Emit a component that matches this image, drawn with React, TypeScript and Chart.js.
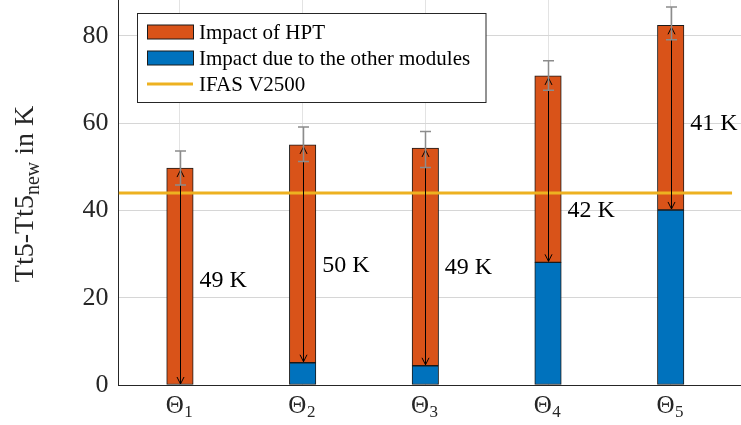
import React, { useEffect, useRef } from "react";
import { Chart, registerables } from "chart.js";

Chart.register(...registerables);

// ---- data ----
const categories = ["Θ_1", "Θ_2", "Θ_3", "Θ_4", "Θ_5"];
const categoryPositions = [1, 2, 3, 4, 5];
const otherModules = [0, 5.1, 4.4, 28.1, 40.1];
const hptImpact = [49.7, 49.9, 49.9, 42.7, 42.3];
const errUpper = [53.6, 59.1, 58.1, 74.3, 86.6];
const errLower = [45.8, 51.2, 49.8, 67.5, 79.1];
const referenceLevel = 44;
const referenceRange = [0.5, 5.5];
const deltaLabels = ["49 K", "50 K", "49 K", "42 K", "41 K"];
const deltaLabelY = [24, 27.3, 26.8, 40, 59.8];
const yTicks = [0, 20, 40, 60, 80];
const yLabelMain = "Tt5-Tt5";
const yLabelSub = "new";
const yLabelTail = " in K";

const HPT_COLOR = "#D95319";
const OTHER_COLOR = "#0072BD";
const REF_COLOR = "#EDB120";
const FONT = "'Liberation Serif', 'Times New Roman', serif";

const overlayPlugin = {
  id: "overlay",
  afterDatasetsDraw(chart: any) {
    const ctx = chart.ctx as CanvasRenderingContext2D;
    const xs = chart.scales.x;
    const ys = chart.scales.y;
    ctx.save();
    // double arrows over HPT segment
    ctx.strokeStyle = "#000";
    ctx.lineWidth = 1;
    categoryPositions.forEach((c, i) => {
      const px = Math.round(xs.getPixelForValue(c)) + 0.5;
      const top = ys.getPixelForValue(otherModules[i] + hptImpact[i]) + 2;
      const bot = ys.getPixelForValue(otherModules[i]) - 1;
      ctx.beginPath();
      ctx.moveTo(px, top);
      ctx.lineTo(px, bot);
      ctx.stroke();
      ctx.beginPath();
      ctx.moveTo(px - 3.5, top + 7);
      ctx.lineTo(px, top);
      ctx.lineTo(px + 3.5, top + 7);
      ctx.stroke();
      ctx.beginPath();
      ctx.moveTo(px - 3.5, bot - 7);
      ctx.lineTo(px, bot);
      ctx.lineTo(px + 3.5, bot - 7);
      ctx.stroke();
    });
    // error bars
    ctx.strokeStyle = "#8c8c8c";
    ctx.lineWidth = 1.5;
    categoryPositions.forEach((c, i) => {
      const px = Math.round(xs.getPixelForValue(c)) + 0.5;
      const yt = ys.getPixelForValue(errUpper[i]);
      const yb = ys.getPixelForValue(errLower[i]);
      ctx.beginPath();
      ctx.moveTo(px, yt);
      ctx.lineTo(px, yb);
      ctx.moveTo(px - 5.5, yt);
      ctx.lineTo(px + 5.5, yt);
      ctx.moveTo(px - 5.5, yb);
      ctx.lineTo(px + 5.5, yb);
      ctx.stroke();
    });
    // delta labels
    ctx.fillStyle = "#000";
    ctx.font = `24px ${FONT}`;
    ctx.textAlign = "left";
    ctx.textBaseline = "middle";
    categoryPositions.forEach((c, i) => {
      const px = xs.getPixelForValue(c) + 19.5;
      ctx.fillText(deltaLabels[i], px, ys.getPixelForValue(deltaLabelY[i]));
    });
    ctx.restore();
  },
  afterDraw(chart: any) {
    const ctx = chart.ctx as CanvasRenderingContext2D;
    const xs = chart.scales.x;
    const area = chart.chartArea;
    ctx.save();
    // x category labels with subscripts
    ctx.fillStyle = "#262626";
    ctx.textBaseline = "alphabetic";
    ctx.textAlign = "left";
    categoryPositions.forEach((c, i) => {
      const [base, sub] = categories[i].split("_");
      ctx.font = `25px ${FONT}`;
      const wb = ctx.measureText(base).width;
      ctx.font = `17px ${FONT}`;
      const ws = ctx.measureText(sub).width;
      const start = xs.getPixelForValue(c) - (wb + ws) / 2 - 1;
      ctx.font = `25px ${FONT}`;
      ctx.fillText(base, start, area.bottom + 28);
      ctx.font = `17px ${FONT}`;
      ctx.fillText(sub, start + wb + 0.5, area.bottom + 32);
    });
    // y axis title with subscript
    ctx.save();
    ctx.translate(33, 194);
    ctx.rotate(-Math.PI / 2);
    ctx.font = `28px ${FONT}`;
    const w1 = ctx.measureText(yLabelMain).width;
    const w3 = ctx.measureText(yLabelTail).width;
    ctx.font = `20px ${FONT}`;
    const w2 = ctx.measureText(yLabelSub).width;
    let x0 = -(w1 + w2 + w3) / 2;
    ctx.font = `28px ${FONT}`;
    ctx.fillText(yLabelMain, x0, 0);
    x0 += w1;
    ctx.font = `20px ${FONT}`;
    ctx.fillText(yLabelSub, x0, 6);
    x0 += w2;
    ctx.font = `28px ${FONT}`;
    ctx.fillText(yLabelTail, x0, 0);
    ctx.restore();
    // legend
    const lx = 137.5, ly = 13.5, lw = 348.5, lh = 89;
    ctx.fillStyle = "#fff";
    ctx.fillRect(lx, ly, lw, lh);
    ctx.strokeStyle = "#262626";
    ctx.lineWidth = 1;
    ctx.strokeRect(lx, ly, lw, lh);
    const hpt = chart.data.datasets[1];
    const oth = chart.data.datasets[0];
    const ref = chart.data.datasets[2];
    const rows = [
      { label: hpt.label, kind: "box", color: hpt.backgroundColor },
      { label: oth.label, kind: "box", color: oth.backgroundColor },
      { label: ref.label, kind: "line", color: ref.borderColor },
    ];
    rows.forEach((r, i) => {
      const cy = 32 + i * 26;
      if (r.kind === "box") {
        ctx.fillStyle = r.color;
        ctx.fillRect(147.5, cy - 7, 46, 14);
        ctx.strokeStyle = "#1a1a1a";
        ctx.lineWidth = 1;
        ctx.strokeRect(147.5, cy - 7, 46, 14);
      } else {
        ctx.strokeStyle = r.color;
        ctx.lineWidth = 3;
        ctx.beginPath();
        ctx.moveTo(147, cy);
        ctx.lineTo(193, cy);
        ctx.stroke();
      }
      ctx.fillStyle = "#000";
      ctx.font = `21px ${FONT}`;
      ctx.textBaseline = "middle";
      ctx.fillText(r.label, 199, cy + 1);
    });
    ctx.restore();
  },
};

export default function App() {
  const ref = useRef<HTMLCanvasElement | null>(null);
  useEffect(() => {
    if (!ref.current) return;
    const chart = new Chart(ref.current, {
      type: "bar",
      data: {
        datasets: [
          {
            label: "Impact due to the other modules",
            data: categoryPositions.map((c, i) => ({ x: c, y: otherModules[i] })),
            backgroundColor: OTHER_COLOR,
            borderColor: "#1a1a1a",
            borderWidth: 1,
            borderSkipped: false,
            barThickness: 26.5,
            stack: "s",
            order: 1,
          },
          {
            label: "Impact of HPT",
            data: categoryPositions.map((c, i) => ({ x: c, y: hptImpact[i] })),
            backgroundColor: HPT_COLOR,
            borderColor: "#1a1a1a",
            borderWidth: 1,
            borderSkipped: false,
            barThickness: 26.5,
            stack: "s",
            order: 1,
          },
          {
            type: "line",
            label: "IFAS V2500",
            data: referenceRange.map((v) => ({ x: v, y: referenceLevel })),
            borderColor: REF_COLOR,
            backgroundColor: REF_COLOR,
            borderWidth: 3,
            pointRadius: 0,
            stack: "ref",
            order: 0,
          } as any,
        ],
      },
      options: {
        animation: false,
        responsive: false,
        layout: { padding: 0 },
        plugins: { legend: { display: false }, tooltip: { enabled: false } },
        scales: {
          x: {
            type: "linear",
            min: 0.5,
            max: 5.573,
            offset: false,
            stacked: true,
            afterBuildTicks: (s: any) => {
              s.ticks = categoryPositions.map((v) => ({ value: v }));
            },
            afterFit: (s: any) => {
              s.height = 40;
              s.paddingLeft = 0;
              s.paddingRight = 0;
            },
            ticks: { display: false },
            grid: { color: "#e3e3e3", drawTicks: false, lineWidth: 1, offset: false },
            border: { display: true, color: "#262626", width: 1 },
          },
          y: {
            type: "linear",
            min: 0,
            max: 88.2,
            stacked: true,
            afterBuildTicks: (s: any) => {
              s.ticks = yTicks.map((v) => ({ value: v }));
            },
            afterFit: (s: any) => {
              s.width = 118.6;
              s.paddingTop = 0;
              s.paddingBottom = 0;
            },
            ticks: {
              padding: 10,
              color: "#262626",
              font: { family: FONT, size: 26 },
            },
            grid: { color: "#d6d6d6", drawTicks: false, lineWidth: 1 },
            border: { display: true, color: "#262626", width: 1 },
          },
        },
      } as any,
      plugins: [overlayPlugin],
    });
    return () => chart.destroy();
  }, []);
  return (
    <div style={{ position: "absolute", left: 0, top: 0, width: 741, height: 425, background: "#fff" }}>
      <canvas ref={ref} width={741} height={425} style={{ width: 741, height: 425, display: "block" }} />
    </div>
  );
}
